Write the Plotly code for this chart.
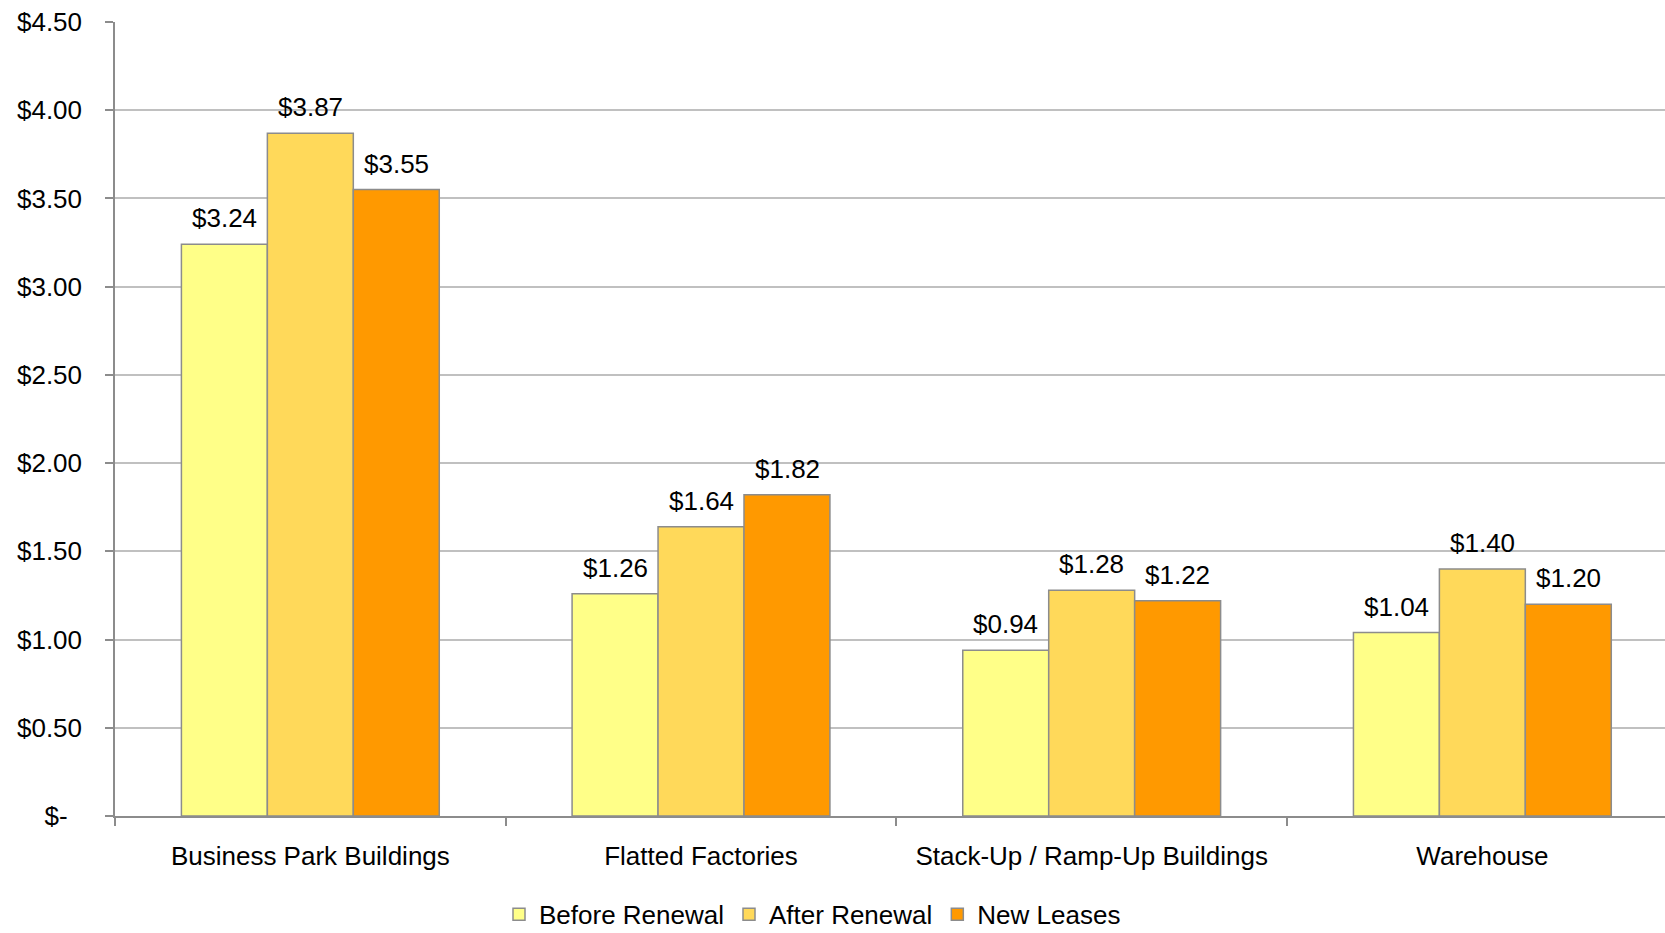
import plotly.graph_objects as go

categories = ["Business Park Buildings", "Flatted Factories", "Stack-Up / Ramp-Up Buildings", "Warehouse"]
series_names = ["Before Renewal", "After Renewal", "New Leases"]
before_renewal = [3.24, 1.26, 0.94, 1.04]
after_renewal = [3.87, 1.64, 1.28, 1.40]
new_leases = [3.55, 1.82, 1.22, 1.20]
series_values = [before_renewal, after_renewal, new_leases]
colors = ["#FFFF88", "#FFD95A", "#FF9900"]

y_tickvals = [0, 0.5, 1.0, 1.5, 2.0, 2.5, 3.0, 3.5, 4.0, 4.5]
y_ticktext = ["$-\u00a0\u00a0", "$0.50", "$1.00", "$1.50", "$2.00", "$2.50",
              "$3.00", "$3.50", "$4.00", "$4.50"]

FONT = "Liberation Sans, Arial, sans-serif"
FS = 26

fig = go.Figure()
for name, vals, col in zip(series_names, series_values, colors):
    fig.add_trace(go.Bar(
        name=name, x=categories, y=vals,
        marker=dict(color=col, line=dict(color="#8C8C8C", width=1.5)),
    ))

# data labels as annotations above each bar
bar_px = 86
for i, vals in enumerate(series_values):
    for c, v in zip(categories, vals):
        fig.add_annotation(
            x=c, y=v, text=f"${v:.2f}", showarrow=False,
            xref="x", yref="y", yanchor="bottom", xanchor="center",
            xshift=(i - 1) * bar_px, yshift=9,
            font=dict(family=FONT, size=FS, color="#000000"),
        )

fig.update_layout(
    width=1665, height=933,
    margin=dict(l=115, r=0, t=22, b=117, autoexpand=False),
    paper_bgcolor="white", plot_bgcolor="white",
    barmode="group", bargap=0.34, bargroupgap=0,
    font=dict(family=FONT, size=FS, color="#000000"),
    showlegend=True,
    legend=dict(orientation="h", x=0.45, xanchor="center",
                yref="container", y=0.02, yanchor="middle",
                font=dict(family=FONT, size=FS, color="#000000"),
                itemwidth=30, tracegroupgap=0),
)
fig.update_xaxes(
    range=[-0.5, 3.4675], showgrid=False, automargin=False,
    showline=True, linecolor="#8C8C8C", linewidth=1.5,
    ticks="outside", tickson="boundaries", ticklen=8, tickcolor="#8C8C8C", tickwidth=1.5,
    ticklabelstandoff=16,
    tickfont=dict(family=FONT, size=FS, color="#000000"),
)
fig.update_yaxes(
    range=[0, 4.5], tickvals=y_tickvals, ticktext=y_ticktext, automargin=False,
    showgrid=True, gridcolor="#C0C0C0", gridwidth=1.5,
    showline=True, linecolor="#8C8C8C", linewidth=1.5,
    ticks="outside", ticklen=8, tickcolor="#8C8C8C", tickwidth=1.5,
    ticklabelstandoff=18, zeroline=False,
    tickfont=dict(family=FONT, size=FS, color="#000000"),
)

fig.write_html("out.html")
